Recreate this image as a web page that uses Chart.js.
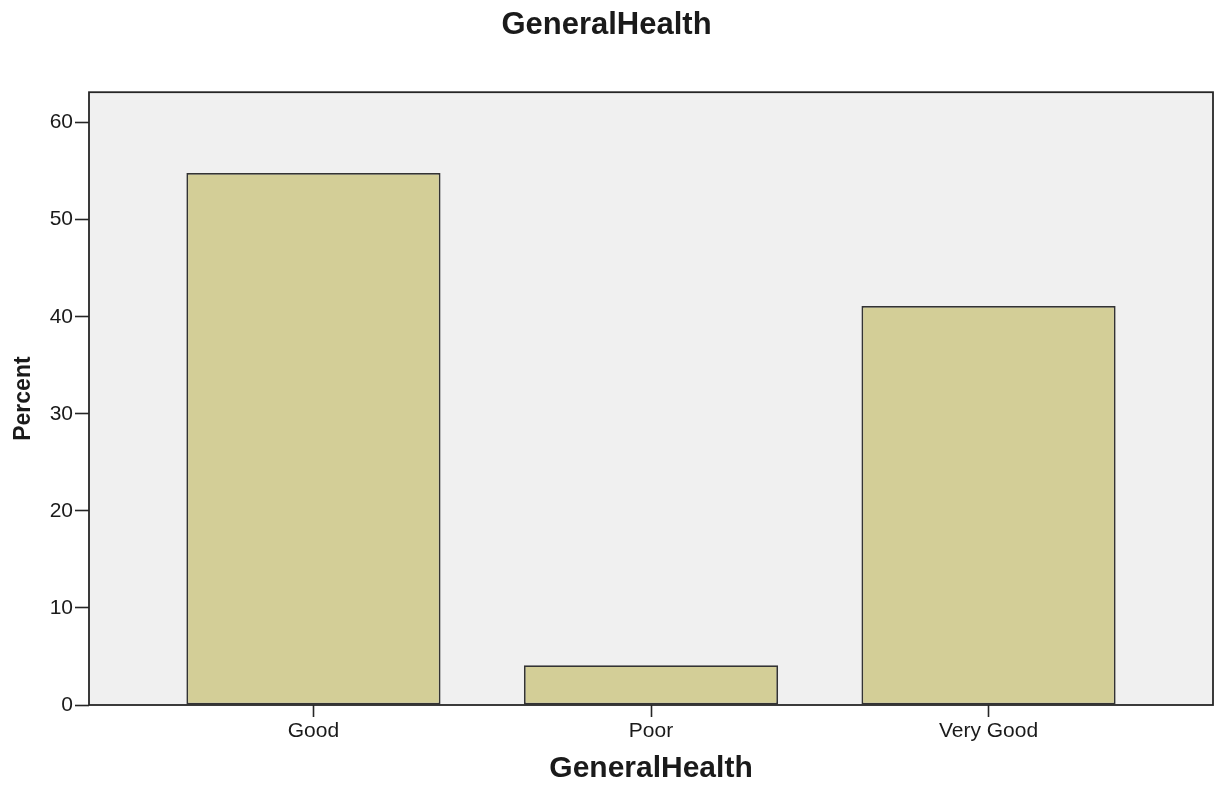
<!DOCTYPE html>
<html>
<head>
<meta charset="utf-8">
<script src="https://cdn.jsdelivr.net/npm/chart.js@4.4.1/dist/chart.umd.min.js"></script>
<style>
  html, body { margin: 0; padding: 0; background: #ffffff; }
  canvas { display: block; }
</style>
</head>
<body>
<canvas id="c" width="1220" height="788"></canvas>
<script>
// ---- data ----
const categories = ['Good', 'Poor', 'Very Good'];
const percentValues = [54.8, 4.1, 41.1];
const yTickValues = [0, 10, 20, 30, 40, 50, 60];
const chartTitle = 'GeneralHealth';
const xAxisTitle = 'GeneralHealth';
const yAxisTitle = 'Percent';

const FONT = "'Liberation Sans', Arial, Helvetica, sans-serif";
const INK = '#1a1a1a';

const plotFrame = {
  id: 'plotFrame',
  beforeDatasetsDraw(chart) {
    const a = chart.chartArea, ctx = chart.ctx;
    ctx.save();
    ctx.fillStyle = '#f0f0f0';
    ctx.fillRect(a.left, a.top, a.right - a.left, a.bottom - a.top);
    ctx.restore();
  },
  afterDatasetsDraw(chart) {
    const a = chart.chartArea, ctx = chart.ctx;
    ctx.save();
    ctx.strokeStyle = '#262626';
    ctx.lineWidth = 1.8;
    ctx.strokeRect(a.left, a.top, a.right - a.left, a.bottom - a.top);
    ctx.restore();
  }
};

new Chart(document.getElementById('c'), {
  type: 'bar',
  data: {
    datasets: [{
      data: categories.map((c, i) => ({ x: i, y: percentValues[i] })),
      backgroundColor: '#d3ce97',
      borderColor: '#333333',
      borderWidth: 1.8,
      borderSkipped: false,
      barPercentage: 0.753,
      categoryPercentage: 1.0
    }]
  },
  plugins: [plotFrame],
  options: {
    responsive: false,
    animation: false,
    layout: { padding: { left: 0, right: 7, top: 0, bottom: 0 } },
    plugins: {
      legend: { display: false },
      tooltip: { enabled: false },
      title: {
        display: true,
        text: chartTitle,
        color: INK,
        font: { family: FONT, size: 31, weight: 'bold' },
        padding: { top: 7, bottom: 48 }
      }
    },
    scales: {
      x: {
        type: 'linear',
        offset: false,
        bounds: 'data',
        min: -0.665,
        max: categories.length - 1 + 0.665,
        afterBuildTicks(scale) {
          scale.ticks = categories.map((c, i) => ({ value: i }));
        },
        afterFit(scale) { scale.height = 83; },
        ticks: {
          autoSkip: false,
          maxRotation: 0,
          padding: 2,
          color: INK,
          font: { family: FONT, size: 21 },
          callback: (v) => categories[v]
        },
        grid: {
          offset: false,
          drawOnChartArea: false,
          drawTicks: true,
          tickLength: 12,
          tickWidth: 1.6,
          tickColor: '#262626'
        },
        border: { display: false },
        title: {
          display: true,
          text: xAxisTitle,
          color: INK,
          font: { family: FONT, size: 30, weight: 'bold' },
          padding: { top: 4, bottom: 1 }
        }
      },
      y: {
        type: 'linear',
        min: 0,
        max: 63.13,
        afterBuildTicks(scale) {
          scale.ticks = yTickValues.map(v => ({ value: v }));
        },
        afterFit(scale) { scale.width = 89; },
        ticks: {
          padding: 2,
          color: INK,
          font: { family: FONT, size: 21 }
        },
        grid: {
          drawOnChartArea: false,
          drawTicks: true,
          tickLength: 14,
          tickWidth: 1.6,
          tickColor: '#262626'
        },
        border: { display: false },
        title: {
          display: true,
          text: yAxisTitle,
          color: INK,
          font: { family: FONT, size: 23, weight: 'bold' },
          padding: { top: 10, bottom: 4 }
        }
      }
    }
  }
});
</script>
</body>
</html>
